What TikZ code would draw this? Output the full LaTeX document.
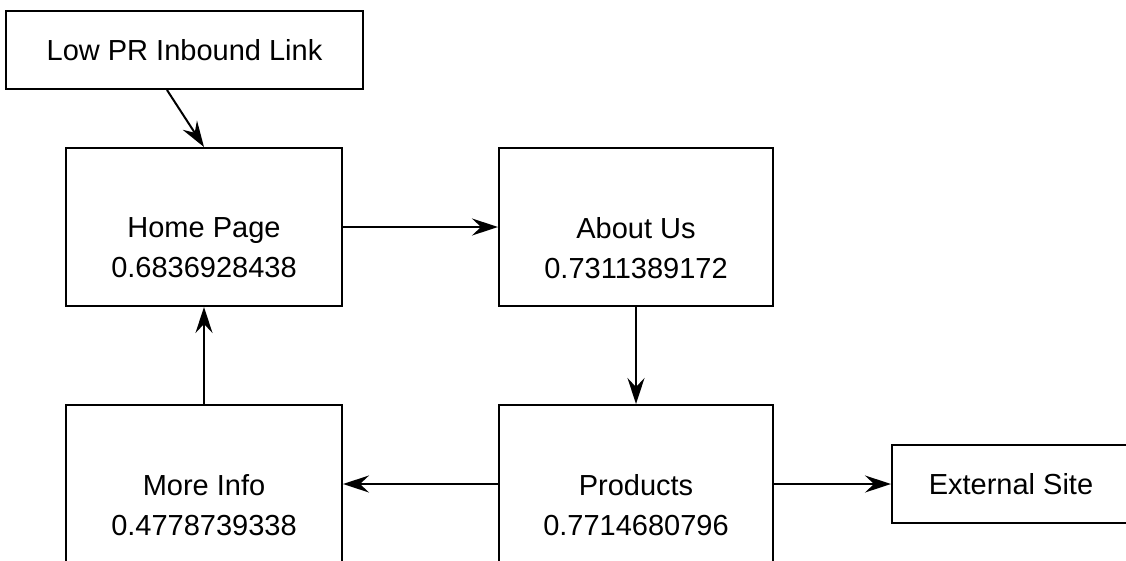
\documentclass[tikz,border=0pt]{standalone}
\usepackage{fontspec}
\setmainfont{Liberation Sans}
\usetikzlibrary{arrows.meta}
\begin{document}
\begin{tikzpicture}[x=1pt,y=-1pt,
  box/.style={draw=black, line width=2pt, fill=white, inner sep=0pt, anchor=center},
  txt/.style={font=\fontsize{29}{40}\selectfont, align=center, inner sep=0pt},
  arr/.style={line width=2pt, -{Stealth[length=26pt,width=17pt,inset=9pt]}}]
  \useasboundingbox (0,0) rectangle (1126,560);
  % page boxes
  \node[box, txt, minimum width=357pt, minimum height=78pt] (low) at (184.5,50) {Low PR Inbound Link};
  \node[box, minimum width=276pt, minimum height=158pt] (home) at (204,227) {};
  \node[box, minimum width=274pt, minimum height=158pt] (about) at (636,227) {};
  \node[box, minimum width=276pt, minimum height=158pt] (more) at (204,484) {};
  \node[box, minimum width=274pt, minimum height=158pt] (prod) at (636,484) {};
  \node[box, txt, minimum width=238pt, minimum height=78pt] (ext) at (1011,484) {External Site};
  % page names and scores
  \node[txt] (homet) at ([yshift=-21pt]home.center) {Home Page\\0.6836928438};
  \node[txt] (aboutt) at ([yshift=-21pt]about.center) {About Us\\0.7311389172};
  \node[txt] (moret) at ([yshift=-21pt]more.center) {More Info\\0.4778739338};
  \node[txt] (prodt) at ([yshift=-21pt]prod.center) {Products\\0.7714680796};
  % links
  \draw[arr] ([xshift=-17.5pt]low.south) -- (home.north);
  \draw[arr] (home.east) -- (about.west);
  \draw[arr] (about.south) -- (prod.north);
  \draw[arr] (prod.west) -- (more.east);
  \draw[arr] (more.north) -- (home.south);
  \draw[arr] (prod.east) -- (ext.west);
\end{tikzpicture}
\end{document}
